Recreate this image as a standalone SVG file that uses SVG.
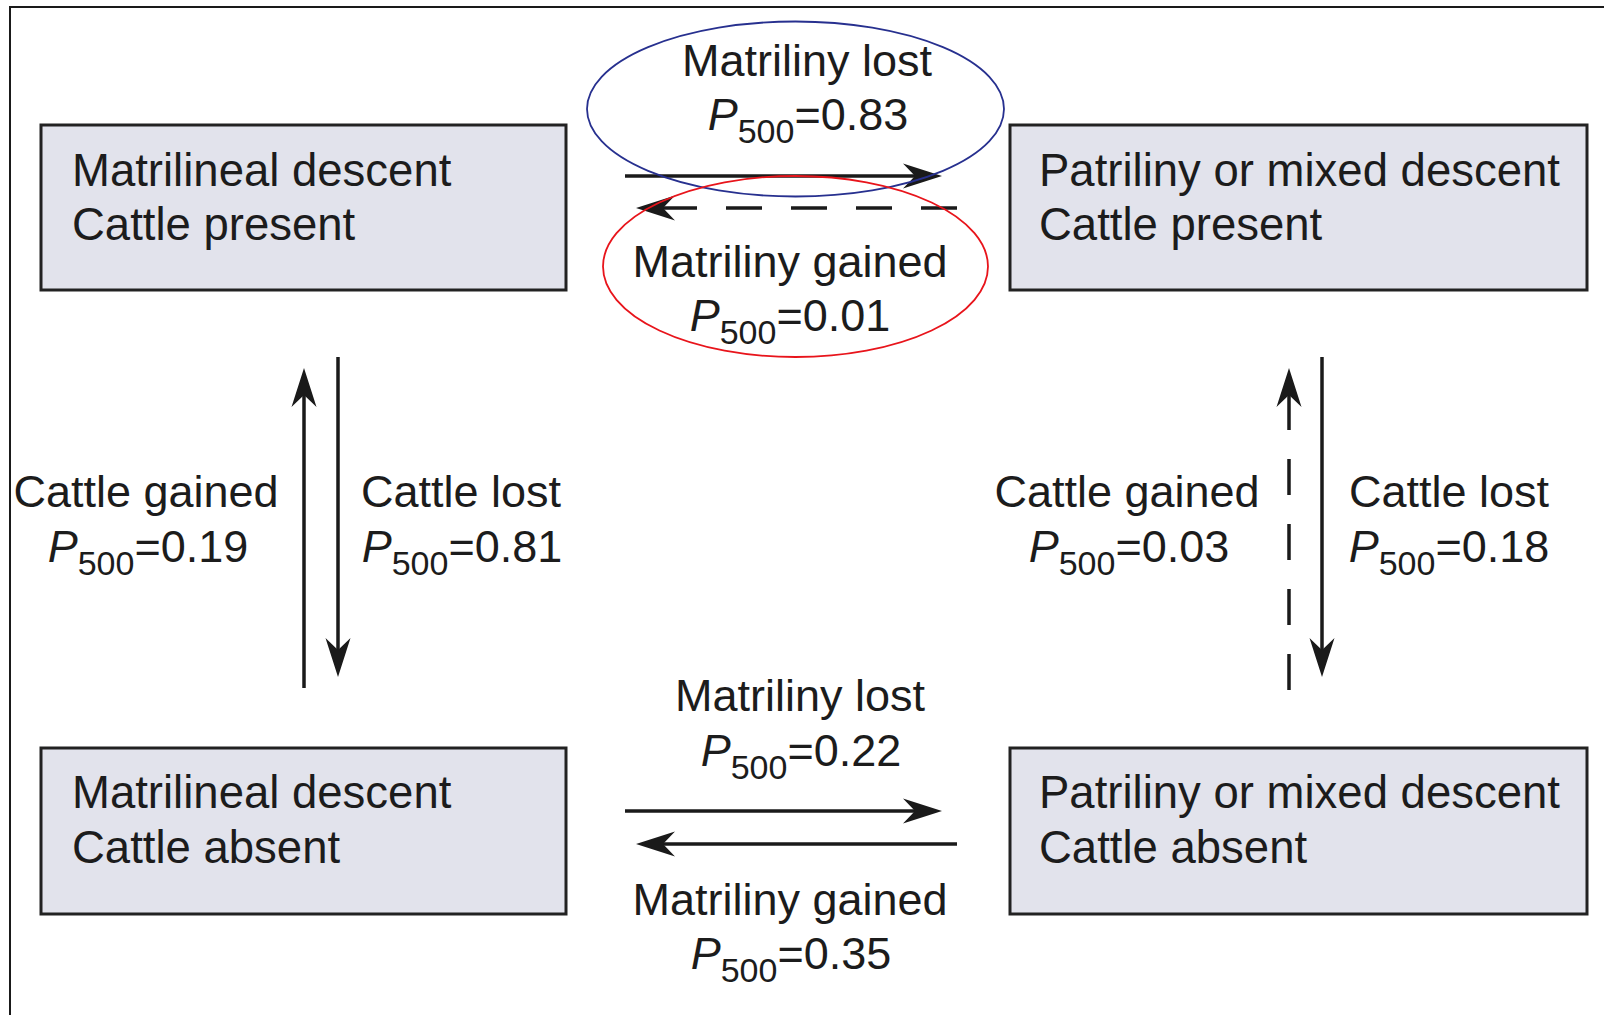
<svg xmlns="http://www.w3.org/2000/svg" width="1604" height="1015" viewBox="0 0 1604 1015">
  <style>
    text { font-family: "Liberation Sans", Arial, sans-serif; font-size: 45px; fill: #1c1c1c; }
    .state { font-size: 45.5px; }
    .lbl { text-anchor: middle; }
    .p { font-style: italic; }
    .sub { font-size: 34px; }
    .box { fill: #e2e3ec; stroke: #222; stroke-width: 3; }
    .arrow { fill: none; stroke: #1a1a1a; stroke-width: 3.5; marker-end: url(#head); }
    .dashed { stroke-dasharray: 36 29; }
  </style>
  <defs>
    <marker id="head" viewBox="-41 -15 43 30" markerWidth="43" markerHeight="30" markerUnits="userSpaceOnUse" refX="-25" refY="0" orient="auto">
      <path d="M0,0 L-39,-12.5 L-27,0 L-39,12.5 Z" fill="#1a1a1a"/>
    </marker>
  </defs>

  <rect width="1604" height="1015" fill="#ffffff"/>
  <!-- figure frame -->
  <path d="M10,1015 V7 H1604" fill="none" stroke="#1a1a1a" stroke-width="2"/>

  <g id="matri-cattle-present">
    <rect class="box" x="41" y="125" width="525" height="165"/>
    <text class="state" x="72" y="186">Matrilineal descent</text>
    <text class="state" x="72" y="240">Cattle present</text>
  </g>
  <g id="patri-cattle-present">
    <rect class="box" x="1010" y="125" width="577" height="165"/>
    <text class="state" x="1039" y="186">Patriliny or mixed descent</text>
    <text class="state" x="1039" y="240">Cattle present</text>
  </g>
  <g id="matri-cattle-absent">
    <rect class="box" x="41" y="748" width="525" height="166"/>
    <text class="state" x="72" y="808">Matrilineal descent</text>
    <text class="state" x="72" y="863">Cattle absent</text>
  </g>
  <g id="patri-cattle-absent">
    <rect class="box" x="1010" y="748" width="577" height="166"/>
    <text class="state" x="1039" y="808">Patriliny or mixed descent</text>
    <text class="state" x="1039" y="863">Cattle absent</text>
  </g>

  <g id="connectors">
    <path class="arrow" d="M625,176 H917"/>
    <path class="arrow dashed" d="M957,208 H661"/>
    <path class="arrow" d="M625,811 H917"/>
    <path class="arrow" d="M957,844 H661"/>
    <path class="arrow" d="M304,688 V393"/>
    <path class="arrow" d="M338,357 V652"/>
    <path class="arrow dashed" d="M1289,690 V393"/>
    <path class="arrow" d="M1322,357 V652"/>
  </g>

  <g id="labels">
    <text class="lbl" x="807" y="76">Matriliny lost</text>
    <text class="lbl" x="808" y="130"><tspan class="p">P</tspan><tspan class="sub" dy="13">500</tspan><tspan dy="-13">=0.83</tspan></text>
    <text class="lbl" x="790" y="277">Matriliny gained</text>
    <text class="lbl" x="790" y="331"><tspan class="p">P</tspan><tspan class="sub" dy="13">500</tspan><tspan dy="-13">=0.01</tspan></text>

    <text class="lbl" x="800" y="711">Matriliny lost</text>
    <text class="lbl" x="801" y="766"><tspan class="p">P</tspan><tspan class="sub" dy="13">500</tspan><tspan dy="-13">=0.22</tspan></text>
    <text class="lbl" x="790" y="915">Matriliny gained</text>
    <text class="lbl" x="791" y="969"><tspan class="p">P</tspan><tspan class="sub" dy="13">500</tspan><tspan dy="-13">=0.35</tspan></text>

    <text class="lbl" x="146" y="507">Cattle gained</text>
    <text class="lbl" x="148" y="562"><tspan class="p">P</tspan><tspan class="sub" dy="13">500</tspan><tspan dy="-13">=0.19</tspan></text>
    <text class="lbl" x="461" y="507">Cattle lost</text>
    <text class="lbl" x="462" y="562"><tspan class="p">P</tspan><tspan class="sub" dy="13">500</tspan><tspan dy="-13">=0.81</tspan></text>

    <text class="lbl" x="1127" y="507">Cattle gained</text>
    <text class="lbl" x="1129" y="562"><tspan class="p">P</tspan><tspan class="sub" dy="13">500</tspan><tspan dy="-13">=0.03</tspan></text>
    <text class="lbl" x="1449" y="507">Cattle lost</text>
    <text class="lbl" x="1449" y="562"><tspan class="p">P</tspan><tspan class="sub" dy="13">500</tspan><tspan dy="-13">=0.18</tspan></text>
  </g>

  <!-- highlight rings around the top pair of rates -->
  <g id="highlights" fill="none" stroke-width="1.8">
    <ellipse cx="795.5" cy="109" rx="208.5" ry="87.5" stroke="#27308f"/>
    <ellipse cx="795.5" cy="266.5" rx="192.5" ry="90.5" stroke="#e8141b"/>
  </g>
</svg>
